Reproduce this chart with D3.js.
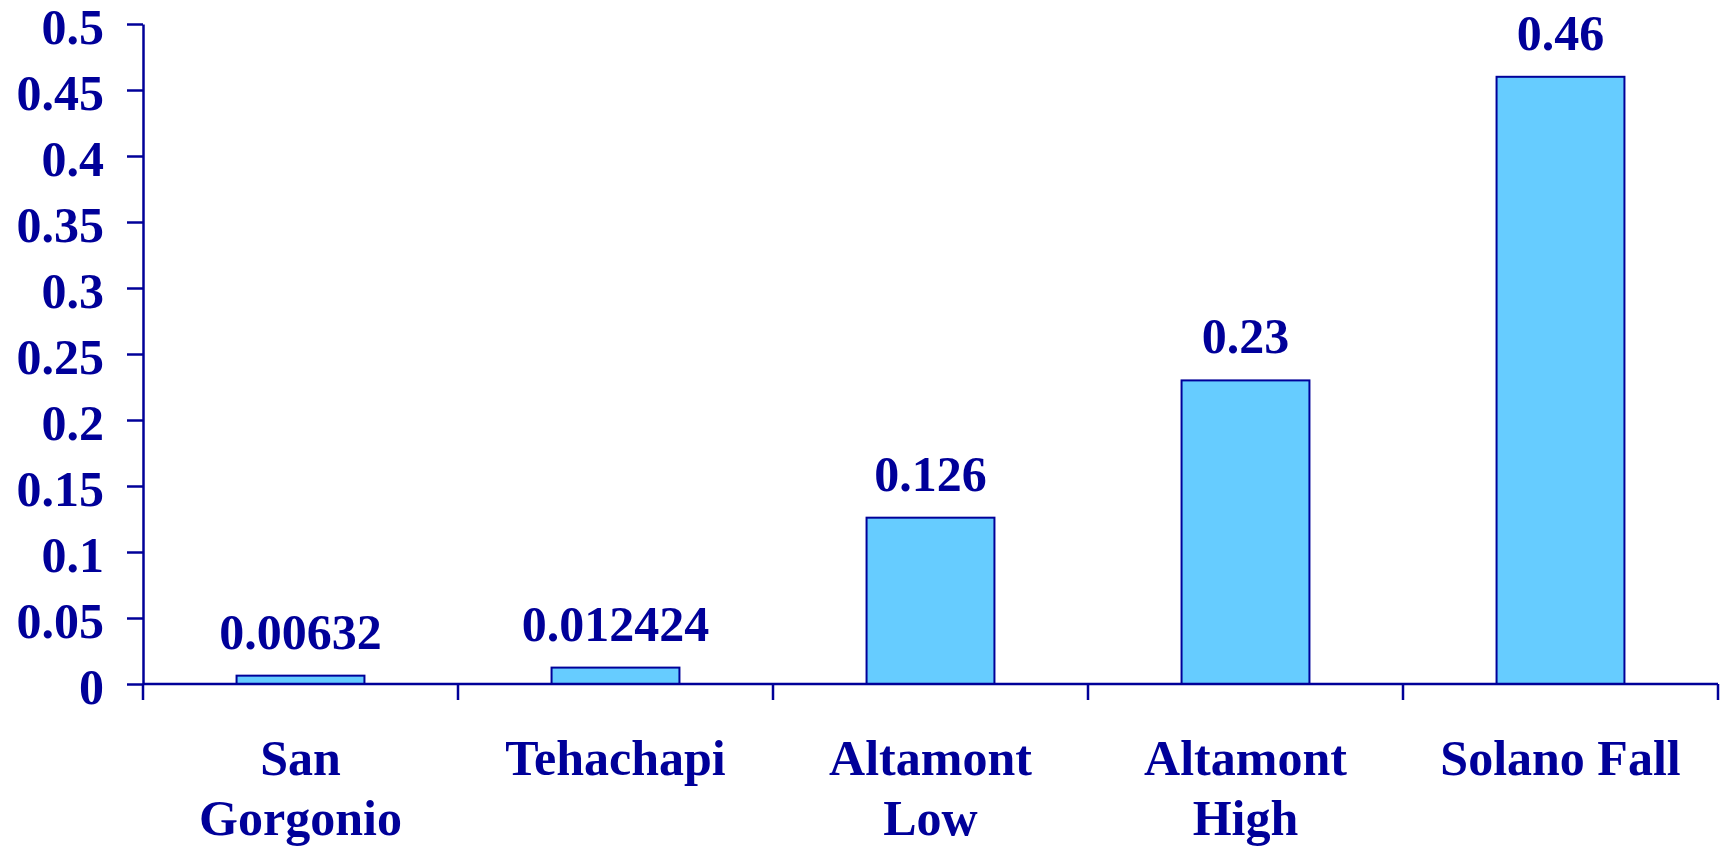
<!DOCTYPE html>
<html>
<head>
<meta charset="utf-8">
<script src="https://cdn.jsdelivr.net/npm/d3@7"></script>
<style>
  html, body { margin: 0; padding: 0; background: #fff; }
  svg { display: block; }
</style>
</head>
<body>
<svg id="chart" width="1723" height="848"></svg>
<script>
// data
var categories = ["San\nGorgonio", "Tehachapi", "Altamont\nLow", "Altamont\nHigh", "Solano Fall"];
var values = [0.00632, 0.012424, 0.126, 0.23, 0.46];
var valueLabels = ["0.00632", "0.012424", "0.126", "0.23", "0.46"];
var yTicks = [0, 0.05, 0.1, 0.15, 0.2, 0.25, 0.3, 0.35, 0.4, 0.45, 0.5];
var yTickLabels = ["0", "0.05", "0.1", "0.15", "0.2", "0.25", "0.3", "0.35", "0.4", "0.45", "0.5"];

function plot() {
	var ink = "#000099";
	var font = "'Liberation Serif', 'Times New Roman', serif";

	var svg = d3.select("#chart");
	// plot area edges (note: "top" is a reserved window property, so avoid it)
	var plotLeft = 143, plotRight = 1718, plotTop = 24, plotBottom = 684;

	var x = d3.scaleBand()
		.domain(categories)
		.range([plotLeft, plotRight])
		.paddingInner(0.594)
		.paddingOuter(0.297);

	var y = d3.scaleLinear()
		.domain([0, 0.5])
		.range([plotBottom, plotTop]);

	// bars
	svg.append("g").selectAll("rect")
		.data(values)
		.enter()
		.append("rect")
		.attr("x", function(d, i) { return x(categories[i]); })
		.attr("y", function(d) { return y(d); })
		.attr("width", x.bandwidth())
		.attr("height", function(d) { return y(0) - y(d); })
		.attr("fill", "#66CCFF")
		.attr("stroke", ink)
		.attr("stroke-width", 2);

	// value labels
	svg.append("g").selectAll("text")
		.data(values)
		.enter()
		.append("text")
		.attr("x", function(d, i) { return x(categories[i]) + x.bandwidth() / 2; })
		.attr("y", function(d) { return y(d) - 27; })
		.attr("text-anchor", "middle")
		.attr("font-family", font)
		.attr("font-weight", "bold")
		.attr("font-size", 50)
		.attr("fill", ink)
		.text(function(d, i) { return valueLabels[i]; });

	// y axis
	var yAxis = d3.axisLeft(y)
		.tickValues(yTicks)
		.tickFormat(function(d, i) { return yTickLabels[i]; })
		.tickSize(16)
		.tickSizeOuter(0)
		.tickPadding(23);

	var gy = svg.append("g")
		.attr("transform", "translate(" + plotLeft + ",0)")
		.call(yAxis);
	gy.select(".domain").attr("stroke", ink).attr("stroke-width", 2.5);
	gy.selectAll(".tick line").attr("stroke", ink).attr("stroke-width", 2.5);
	gy.selectAll(".tick text")
		.attr("font-family", font)
		.attr("font-weight", "bold")
		.attr("font-size", 50)
		.attr("fill", ink)
		.attr("dy", "0.38em");

	// x axis: line plus ticks at the band boundaries
	var step = x.step();
	var bounds = categories.map(function(c) { return x(c) - step * x.paddingInner() / 2; });
	bounds.push(plotRight);

	var gx = svg.append("g");
	gx.append("line")
		.attr("x1", plotLeft).attr("x2", plotRight)
		.attr("y1", y(0)).attr("y2", y(0))
		.attr("stroke", ink).attr("stroke-width", 2.5);
	gx.selectAll("line.tick")
		.data(bounds)
		.enter()
		.append("line")
		.attr("class", "tick")
		.attr("x1", function(d) { return d; })
		.attr("x2", function(d) { return d; })
		.attr("y1", y(0))
		.attr("y2", y(0) + 16)
		.attr("stroke", ink)
		.attr("stroke-width", 2.5);

	// category labels, split on new lines
	var labels = gx.selectAll("text")
		.data(categories)
		.enter()
		.append("text")
		.attr("text-anchor", "middle")
		.attr("font-family", font)
		.attr("font-weight", "bold")
		.attr("font-size", 50)
		.attr("fill", ink);

	labels.each(function(c) {
		var t = d3.select(this);
		c.split("\n").forEach(function(line, j) {
			t.append("tspan")
				.attr("x", x(c) + x.bandwidth() / 2)
				.attr("y", 775 + j * 60)
				.text(line);
		});
	});
}
plot();
</script>
</body>
</html>
